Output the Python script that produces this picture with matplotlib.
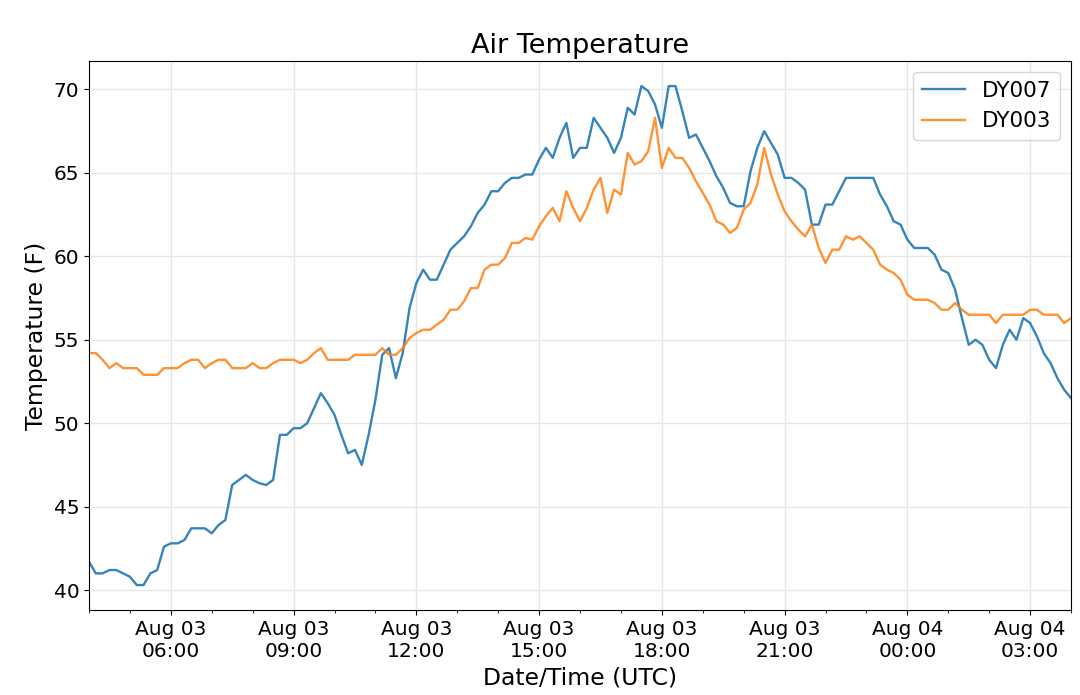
import matplotlib
matplotlib.use("Agg")
import matplotlib.pyplot as plt
import matplotlib.dates as mdates
import pandas as pd

# 10-minute readings, Aug 03 04:00 UTC -> Aug 04 04:00 UTC
start_time = "2019-08-03 04:00"
n_points = 145

dy007 = [41.7, 41.0, 41.0, 41.2, 41.2, 41.0, 40.8, 40.3, 40.3, 41.0,
         41.2, 42.6, 42.8, 42.8, 43.0, 43.7, 43.7, 43.7, 43.4, 43.9,
         44.2, 46.3, 46.6, 46.9, 46.6, 46.4, 46.3, 46.6, 49.3, 49.3,
         49.7, 49.7, 50.0, 50.9, 51.8, 51.2, 50.5, 49.3, 48.2, 48.4,
         47.5, 49.3, 51.4, 54.1, 54.5, 52.7, 54.2, 56.9, 58.4, 59.2,
         58.6, 58.6, 59.5, 60.4, 60.8, 61.2, 61.8, 62.6, 63.1, 63.9,
         63.9, 64.4, 64.7, 64.7, 64.9, 64.9, 65.8, 66.5, 65.9, 67.1,
         68.0, 65.9, 66.5, 66.5, 68.3, 67.7, 67.1, 66.2, 67.1, 68.9,
         68.5, 70.2, 69.9, 69.1, 67.7, 70.2, 70.2, 68.7, 67.1, 67.3,
         66.5, 65.7, 64.8, 64.1, 63.2, 63.0, 63.0, 65.1, 66.5, 67.5,
         66.8, 66.1, 64.7, 64.7, 64.4, 64.0, 61.9, 61.9, 63.1, 63.1,
         63.9, 64.7, 64.7, 64.7, 64.7, 64.7, 63.7, 63.0, 62.1, 61.9,
         61.0, 60.5, 60.5, 60.5, 60.1, 59.2, 59.0, 58.0, 56.3, 54.7,
         55.0, 54.7, 53.8, 53.3, 54.7, 55.6, 55.0, 56.3, 56.0, 55.2,
         54.2, 53.6, 52.7, 52.0, 51.5]

dy003 = [54.2, 54.2, 53.8, 53.3, 53.6, 53.3, 53.3, 53.3, 52.9, 52.9,
         52.9, 53.3, 53.3, 53.3, 53.6, 53.8, 53.8, 53.3, 53.6, 53.8,
         53.8, 53.3, 53.3, 53.3, 53.6, 53.3, 53.3, 53.6, 53.8, 53.8,
         53.8, 53.6, 53.8, 54.2, 54.5, 53.8, 53.8, 53.8, 53.8, 54.1,
         54.1, 54.1, 54.1, 54.5, 54.1, 54.1, 54.5, 55.1, 55.4, 55.6,
         55.6, 55.9, 56.2, 56.8, 56.8, 57.3, 58.1, 58.1, 59.2, 59.5,
         59.5, 59.9, 60.8, 60.8, 61.1, 61.0, 61.8, 62.4, 62.9, 62.1,
         63.9, 62.9, 62.1, 62.9, 64.0, 64.7, 62.6, 64.0, 63.7, 66.2,
         65.5, 65.7, 66.3, 68.3, 65.3, 66.5, 65.9, 65.9, 65.3, 64.5,
         63.8, 63.1, 62.1, 61.9, 61.4, 61.7, 62.8, 63.2, 64.3, 66.5,
         64.9, 63.7, 62.7, 62.1, 61.6, 61.2, 61.9, 60.5, 59.6, 60.4,
         60.4, 61.2, 61.0, 61.2, 60.8, 60.4, 59.5, 59.2, 59.0, 58.6,
         57.7, 57.4, 57.4, 57.4, 57.2, 56.8, 56.8, 57.2, 56.8, 56.5,
         56.5, 56.5, 56.5, 56.0, 56.5, 56.5, 56.5, 56.5, 56.8, 56.8,
         56.5, 56.5, 56.5, 56.0, 56.3]

times = pd.date_range(start_time, periods=n_points, freq="10min")

fig, ax = plt.subplots(figsize=(10.8, 6.95), dpi=100)
fig.subplots_adjust(left=0.0824, right=0.9917, top=0.912, bottom=0.1223)

ax.plot(times, dy007, color="#1f77b4", lw=1.7, alpha=0.9, label="DY007")
ax.plot(times, dy003, color="#ff7f0e", lw=1.7, alpha=0.85, label="DY003")

ax.set_xlim(times[0], times[-1])
ax.xaxis.set_major_locator(mdates.HourLocator(byhour=range(0, 24, 3)))
ax.xaxis.set_minor_locator(mdates.HourLocator())
ax.xaxis.set_major_formatter(mdates.DateFormatter("%b %d\n%H:%M"))

ax.grid(True, which="major", color="#e6e6e6", lw=1)
ax.set_axisbelow(True)
ax.tick_params(labelsize=14.5)

ax.set_title("Air Temperature", fontsize=19.5)
ax.set_xlabel("Date/Time (UTC)", fontsize=16.9)
ax.set_ylabel("Temperature (F)", fontsize=16.9)
ax.legend(loc="upper right", fontsize=15.5)

fig.savefig("out.png", dpi=100)
